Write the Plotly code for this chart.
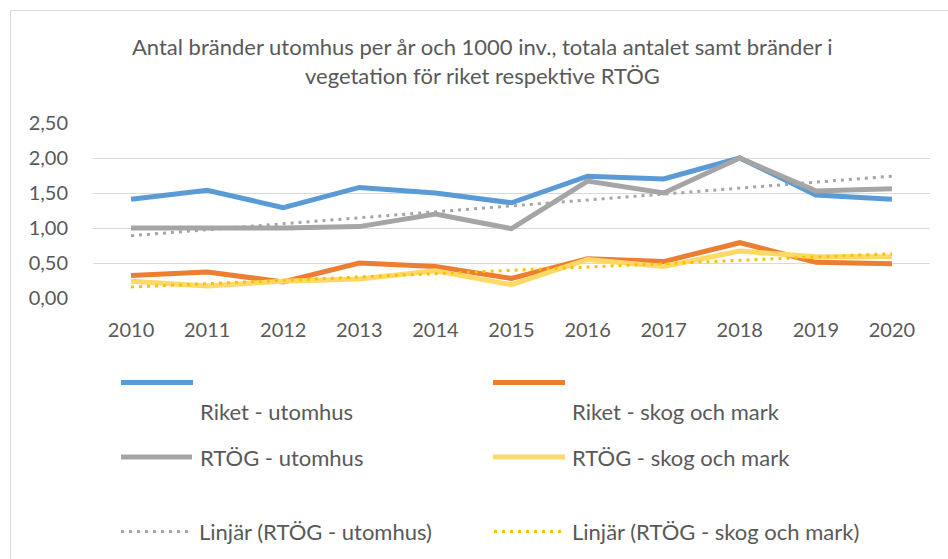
import numpy as np
import plotly.graph_objects as go

# ---------------- data ----------------
years = ["2010", "2011", "2012", "2013", "2014", "2015", "2016", "2017", "2018", "2019", "2020"]
riket_utomhus = [1.41, 1.54, 1.29, 1.58, 1.50, 1.36, 1.74, 1.70, 2.00, 1.47, 1.41]
riket_skog = [0.32, 0.37, 0.23, 0.50, 0.45, 0.28, 0.56, 0.52, 0.79, 0.51, 0.49]
rtog_utomhus = [1.00, 1.00, 1.00, 1.02, 1.20, 0.99, 1.67, 1.50, 2.00, 1.53, 1.56]
rtog_skog = [0.24, 0.17, 0.24, 0.27, 0.39, 0.19, 0.55, 0.45, 0.67, 0.59, 0.59]
y_ticks = [0.0, 0.5, 1.0, 1.5, 2.0, 2.5]

title_line1 = "Antal bränder utomhus per år och 1000 inv., totala antalet samt bränder i"
title_line2 = "vegetation för riket respektive RTÖG"

# linear trend lines (Excel "Linjär")
idx = np.arange(len(years))
k1, m1 = np.polyfit(idx, rtog_utomhus, 1)
k2, m2 = np.polyfit(idx, rtog_skog, 1)
trend_utomhus = (k1 * idx + m1).tolist()
trend_skog = (k2 * idx + m2).tolist()

# ---------------- style ----------------
FONT = "Lato"
TXT = "#595959"
BLUE, ORANGE, GREY, YELLOW, GOLD = "#5B9BD5", "#ED7D31", "#A5A5A5", "#FFD966", "#FFC000"
W, H = 948, 559
L, R, T, B = 93, 18, 123, 261
PW, PH = W - L - R, H - T - B


def px(x):
    return (x - L) / PW


def py(y):
    return (H - B - y) / PH


fig = go.Figure()
series = [
    ("Riket - utomhus", riket_utomhus, BLUE),
    ("Riket - skog och mark", riket_skog, ORANGE),
    ("RTÖG - utomhus", rtog_utomhus, GREY),
    ("RTÖG - skog och mark", rtog_skog, YELLOW),
]
for name, vals, col in series:
    fig.add_trace(go.Scatter(x=years, y=vals, mode="lines", name=name,
                             line=dict(color=col, width=5), showlegend=False))
fig.add_trace(go.Scatter(x=years, y=trend_utomhus, mode="lines", name="Linjär (RTÖG - utomhus)",
                         line=dict(color=GREY, width=3, dash="3px,5px"), showlegend=False))
fig.add_trace(go.Scatter(x=years, y=trend_skog, mode="lines", name="Linjär (RTÖG - skog och mark)",
                         line=dict(color=GOLD, width=3, dash="3px,5px"), showlegend=False))

shapes = [dict(type="rect", xref="paper", yref="paper",
               x0=px(10.5), x1=px(W + 20), y0=py(10.5), y1=py(H + 20),
               line=dict(color="#D9D9D9", width=1), fillcolor="rgba(0,0,0,0)", layer="below")]
annotations = [
    dict(text=title_line1, xref="paper", yref="paper", x=px(482), y=py(47), showarrow=False,
         xanchor="center", yanchor="middle", font=dict(family=FONT, size=22, color=TXT)),
    dict(text=title_line2, xref="paper", yref="paper", x=px(482), y=py(75), showarrow=False,
         xanchor="center", yanchor="middle", font=dict(family=FONT, size=22, color=TXT)),
]

# legend (drawn manually to match the Excel layout)
legend_items = [
    ("Riket - utomhus", BLUE, "solid", 121, 193, 382.5, 198, 411),
    ("Riket - skog och mark", ORANGE, "solid", 493, 565, 382.5, 570, 411),
    ("RTÖG - utomhus", GREY, "solid", 121, 192, 457, 198, 457),
    ("RTÖG - skog och mark", YELLOW, "solid", 493, 565, 457, 570, 457),
    ("Linjär (RTÖG - utomhus)", GREY, "dot", 121, 191, 531.5, 197, 531.5),
    ("Linjär (RTÖG - skog och mark)", GOLD, "dot", 494, 563, 531.5, 570, 531.5),
]
for text, col, style, x0, x1, ly, tx, ty in legend_items:
    if style == "solid":
        line = dict(color=col, width=5)
    else:
        line = dict(color=col, width=3, dash="3px,5px")
    shapes.append(dict(type="line", xref="paper", yref="paper", x0=px(x0), x1=px(x1),
                       y0=py(ly), y1=py(ly), line=line))
    annotations.append(dict(text=text, xref="paper", yref="paper", x=px(tx), y=py(ty),
                            showarrow=False, xanchor="left", yanchor="middle",
                            font=dict(family=FONT, size=22, color=TXT)))

fig.update_layout(
    width=W, height=H, autosize=False,
    margin=dict(l=L, r=R, t=T, b=B, pad=0),
    paper_bgcolor="white", plot_bgcolor="white",
    separators=", ",
    font=dict(family=FONT, size=20, color=TXT),
    showlegend=False,
    shapes=shapes, annotations=annotations,
    xaxis=dict(type="category", range=[-0.5, len(years) - 0.5], showgrid=False,
               showline=False, zeroline=False, ticks="", ticklabelstandoff=18,
               tickfont=dict(family=FONT, size=20, color=TXT)),
    yaxis=dict(range=[0, 2.5], tickvals=y_ticks, tickformat=".2f", showgrid=True,
               gridcolor="#D9D9D9", gridwidth=1, zeroline=False, showline=False,
               ticks="", ticklabelstandoff=24,
               tickfont=dict(family=FONT, size=20, color=TXT)),
)

fig.write_html("out.html", config={"displayModeBar": False},
               post_script="document.body.style.margin='0';")
